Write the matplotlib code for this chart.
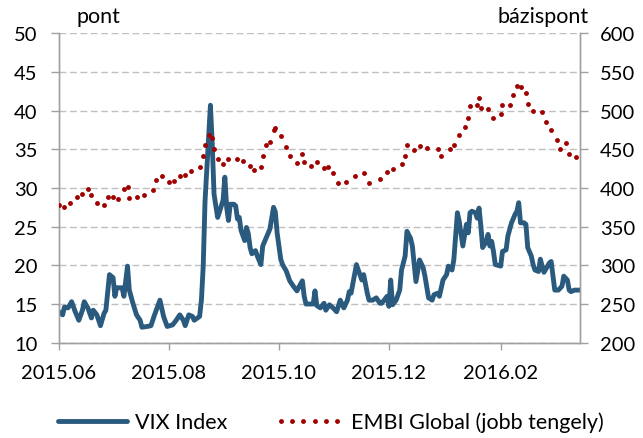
import matplotlib
matplotlib.use('Agg')
import matplotlib.pyplot as plt
import numpy as np
from matplotlib.lines import Line2D
from matplotlib.legend_handler import HandlerLine2D

plt.rcParams['font.family'] = ['Lato', 'DejaVu Sans']

START = '2015-06-01'

# VIX Index (left axis, pont) - day offset from START and value
vix_day = [0, 2, 3, 5, 7, 9, 11, 13, 14, 16, 18, 19, 21, 23, 25, 26, 28, 30, 31, 32,
           35, 36, 38, 39, 41, 43, 45, 46, 49, 51, 53, 56, 58, 60, 63, 65, 67, 69, 70, 72,
           74, 75, 78, 79, 80, 81, 84, 85, 86, 88, 89, 91, 92, 93, 94, 95, 97, 98, 99, 100,
           101, 103, 104, 105, 106, 107, 109, 110, 112, 113, 115, 117, 119, 120, 121, 123, 124, 126, 128, 130,
           132, 134, 135, 136, 137, 139, 141, 142, 143, 145, 147, 148, 150, 152, 154, 156, 158, 160, 161, 162,
           165, 166, 168, 169, 171, 172, 174, 176, 178, 179, 182, 183, 184, 185, 187, 189, 190, 192, 193, 195,
           196, 198, 200, 202, 203, 205, 207, 208, 210, 211, 213, 215, 216, 218, 219, 220, 221, 222, 224, 226,
           227, 228, 229, 231, 232, 233, 234, 235, 237, 238, 239, 240, 241, 242, 245, 246, 248, 249, 251, 253,
           254, 255, 256, 258, 259, 260, 262, 263, 264, 266, 267, 268, 269, 271, 272, 273, 274, 275, 277, 279,
           280, 282, 283, 284, 286, 288, 289]
vix_value = [14.0, 13.6, 14.6, 14.5, 15.3, 14.0, 12.9, 14.2, 15.3, 14.5, 13.2, 14.2, 13.6, 12.2, 13.8, 14.2, 18.8, 18.4, 16.0, 17.1,
             17.1, 16.0, 19.9, 16.8, 15.1, 13.6, 12.9, 12.0, 12.1, 12.2, 13.6, 15.5, 13.4, 12.1, 12.3, 12.9, 13.6, 12.9, 12.2, 13.6,
             13.4, 12.9, 13.4, 15.5, 19.9, 28.3, 40.7, 35.7, 29.2, 26.2, 26.9, 28.4, 31.4, 27.5, 25.8, 27.9, 27.9, 27.7, 26.0, 26.2,
             24.5, 23.2, 24.9, 24.1, 22.3, 21.5, 21.9, 21.2, 20.1, 22.5, 23.6, 24.7, 27.5, 26.9, 24.2, 20.8, 20.1, 19.3, 18.0, 17.3,
             16.7, 17.6, 18.0, 16.0, 15.0, 15.0, 15.0, 16.7, 14.8, 14.5, 15.1, 14.2, 14.9, 14.5, 14.0, 15.5, 14.5, 15.5, 16.6, 16.4,
             20.1, 19.4, 18.1, 18.8, 16.4, 15.5, 15.5, 15.8, 15.1, 15.1, 16.0, 14.7, 18.1, 14.9, 15.5, 16.8, 19.4, 21.2, 24.4, 23.5,
             22.5, 17.9, 20.7, 19.7, 18.6, 15.8, 15.5, 16.2, 16.4, 16.0, 18.1, 18.8, 19.9, 19.4, 20.7, 23.8, 26.8, 25.7, 22.5, 25.3,
             24.2, 26.8, 27.0, 26.8, 26.1, 27.4, 25.1, 22.3, 23.1, 24.0, 22.5, 23.1, 21.8, 20.1, 19.9, 21.8, 22.0, 23.8, 25.5, 26.6,
             27.0, 28.1, 25.5, 25.5, 25.3, 22.3, 21.2, 20.1, 19.4, 19.2, 20.8, 19.9, 19.1, 19.9, 20.3, 20.5, 18.6, 16.8, 16.8, 17.3,
             18.6, 18.1, 16.8, 16.6, 16.8, 16.8, 16.8]

# EMBI Global (right axis, bázispont)
embi_day = [0, 3, 6, 10, 13, 16, 18, 21, 25, 27, 30, 33, 36, 38, 39, 43, 47, 52, 54, 57,
            61, 64, 67, 70, 73, 78, 80, 81, 83, 85, 86, 88, 91, 94, 99, 102, 106, 108, 112, 113,
            115, 117, 119, 120, 123, 126, 128, 132, 135, 136, 140, 143, 147, 149, 152, 155, 159, 164, 169, 172,
            178, 182, 185, 190, 192, 193, 197, 200, 204, 210, 212, 217, 219, 222, 225, 227, 228, 232, 233, 234,
            238, 241, 245, 246, 250, 252, 254, 256, 259, 260, 263, 268, 270, 273, 276, 278, 281, 283, 287]
embi_value = [378, 375, 381, 388, 392, 399, 391, 380, 378, 388, 389, 386, 399, 401, 387, 388, 391, 397, 410, 415,
              408, 409, 416, 417, 422, 427, 441, 456, 469, 465, 451, 437, 431, 438, 438, 435, 429, 423, 427, 441,
              455, 460, 475, 478, 467, 453, 441, 432, 444, 433, 429, 433, 426, 427, 419, 407, 408, 416, 419, 407,
              412, 421, 425, 431, 442, 456, 449, 454, 452, 450, 442, 451, 456, 468, 479, 491, 506, 507, 517, 503,
              502, 491, 496, 507, 507, 520, 532, 530, 523, 509, 500, 498, 485, 475, 462, 451, 458, 444, 440]

x_end_day = 289
xtick_dates = ['2015-06-01', '2015-08-01', '2015-10-01', '2015-12-01', '2016-02-01']
xtick_labels = ['2015.06', '2015.08', '2015.10', '2015.12', '2016.02']
left_ticks = [10, 15, 20, 25, 30, 35, 40, 45, 50]
right_ticks = [200, 250, 300, 350, 400, 450, 500, 550, 600]

start = np.datetime64(START)
vix_dates = start + np.array(vix_day).astype('timedelta64[D]')
embi_dates = start + np.array(embi_day).astype('timedelta64[D]')

VIX_C = '#2A5B7F'
EMBI_C = '#A00000'
AX_C = '#A0A0A0'
FS_TICK = 14.5
FS_TEXT = 15.5

fig = plt.figure(figsize=(6.43, 4.39), dpi=100)
ax = fig.add_axes([59/643, 1-343.7/439, (580-59)/643, (343.7-34.3)/439])
ax2 = ax.twinx()

ax.plot(vix_dates, vix_value, color=VIX_C, lw=3.5, solid_joinstyle='round',
        solid_capstyle='round', zorder=3)
ax2.plot(embi_dates, embi_value, ls='none', marker='o', ms=3.5, mew=0,
         color=EMBI_C, zorder=4)

ax.set_xlim(start, start + np.timedelta64(x_end_day, 'D'))
ax.set_ylim(10, 50)
ax2.set_ylim(200, 600)
ax.set_yticks(left_ticks)
ax2.set_yticks(right_ticks)
ax.set_xticks(np.array(xtick_dates, dtype='datetime64[D]'))
ax.set_xticklabels(xtick_labels)

ax.yaxis.grid(True, color='#C0C0C0', lw=1.0, ls=(0, (5, 2.5)))
ax.set_axisbelow(True)

for a in (ax, ax2):
    a.spines['top'].set_visible(False)
    for s in ('left', 'right', 'bottom'):
        a.spines[s].set_color(AX_C)
        a.spines[s].set_linewidth(1.0)
ax.tick_params(axis='y', which='both', direction='out', length=5.5, width=1.0,
               color=AX_C, labelsize=FS_TICK, pad=10, labelcolor='black')
ax2.tick_params(axis='y', which='both', direction='out', length=5.5, width=1.0,
                color=AX_C, labelsize=FS_TICK, pad=9, labelcolor='black')
ax.tick_params(axis='x', direction='out', length=5, width=1.0, color=AX_C,
               labelsize=FS_TICK, pad=10, labelcolor='black')

fig.text(77/643, 1-23/439, 'pont', fontsize=FS_TEXT, ha='left', va='baseline')
fig.text(589/643, 1-23/439, 'bázispont', fontsize=FS_TEXT, ha='right', va='baseline')

h_vix = Line2D([], [], color=VIX_C, lw=3.5, solid_capstyle='round')
h_embi = Line2D([], [], ls='none', marker='o', ms=3.5, mew=0, color=EMBI_C)
fig.legend([h_vix, h_embi], ['VIX Index', 'EMBI Global (jobb tengely)'],
           loc='center', bbox_to_anchor=(331/643, 1-423/439), ncol=2,
           frameon=False, fontsize=FS_TEXT, handlelength=3.2, handletextpad=0.35,
           columnspacing=2.2, borderaxespad=0,
           handler_map={h_embi: HandlerLine2D(numpoints=6)})

fig.savefig('out.png', dpi=100)
